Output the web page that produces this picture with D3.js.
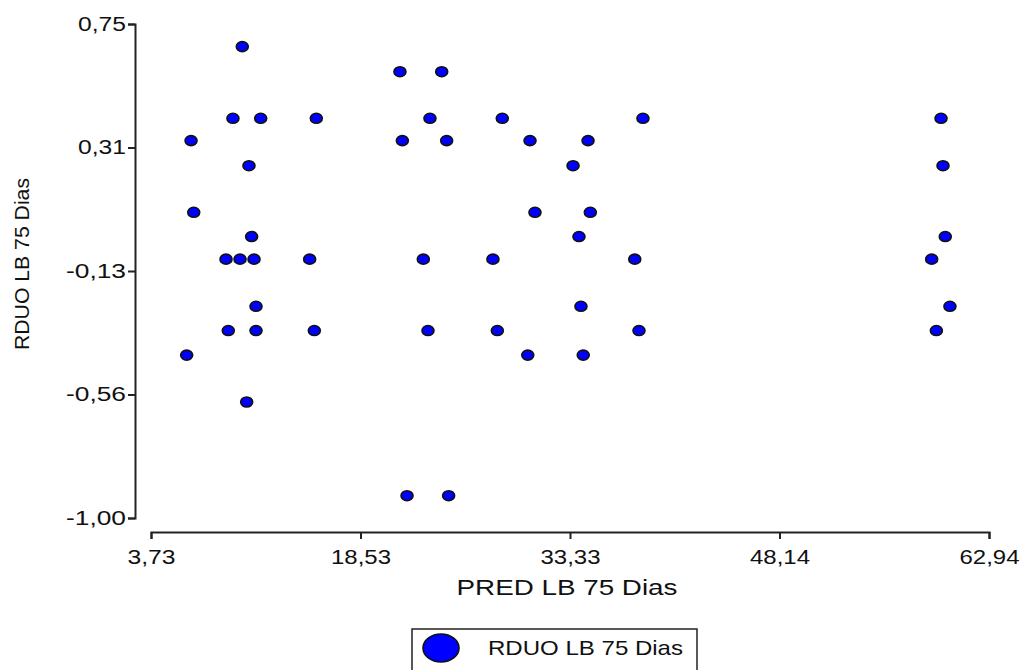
<!DOCTYPE html>
<html>
<head>
<meta charset="utf-8">
<script src="https://cdn.jsdelivr.net/npm/d3@7"></script>
<style>
  body { margin: 0; background: #fff; }
  svg { display: block; font-family: "Liberation Sans", Arial, sans-serif; }
</style>
</head>
<body>
<script>
const width = 1026;
const height = 670;

// PRED LB 75 Dias (x) and RDUO LB 75 Dias (y)
const predX = [
  10.18, 21.32, 24.27, 9.52, 11.48, 15.41, 23.44, 28.55, 38.49, 59.55,
  6.56, 21.49, 24.62, 30.51, 34.61, 10.65, 33.55, 59.69, 6.75, 30.86,
  34.77, 10.84, 33.97, 59.85, 9.03, 10.02, 11.01, 14.94, 22.97, 27.89,
  37.91, 58.89, 11.15, 34.11, 60.18, 9.19, 11.15, 15.27, 23.30, 28.20,
  38.21, 59.22, 6.25, 30.35, 34.27, 10.49, 21.82, 24.76
];
const rduoY = [
  0.670, 0.581, 0.581, 0.416, 0.416, 0.416, 0.416, 0.416, 0.416, 0.416,
  0.337, 0.337, 0.337, 0.337, 0.337, 0.248, 0.248, 0.248, 0.083, 0.083,
  0.083, -0.003, -0.003, -0.003, -0.083, -0.083, -0.083, -0.083, -0.083, -0.083,
  -0.083, -0.083, -0.250, -0.250, -0.250, -0.336, -0.336, -0.336, -0.336, -0.336,
  -0.336, -0.336, -0.423, -0.423, -0.423, -0.589, -0.921, -0.921
];

const xTicks = [3.73, 18.5325, 33.335, 48.1375, 62.94];
const xTickLabels = ["3,73", "18,53", "33,33", "48,14", "62,94"];
const yTicks = [-1.0, -0.5625, -0.125, 0.3125, 0.75];
const yTickLabels = ["-1,00", "-0,56", "-0,13", "0,31", "0,75"];

const points = predX.map((x, i) => ({ x, y: rduoY[i] }));

const xScale = d3.scaleLinear().domain([3.73, 62.94]).range([151, 989]);
const yScale = d3.scaleLinear().domain([-1.0, 0.75]).range([518, 24]);

const svg = d3
  .select("body")
  .append("svg")
  .attr("width", width)
  .attr("height", height);

// x axis (detached below the plot)
const xAxis = svg
  .append("g")
  .attr("transform", "translate(0, 532)")
  .call(
    d3.axisBottom(xScale)
      .tickValues(xTicks)
      .tickFormat((d, i) => xTickLabels[i])
      .tickSizeOuter(0)
      .tickSize(7)
      .tickPadding(6)
  );

// y axis (detached left of the plot)
const yAxis = svg
  .append("g")
  .attr("transform", "translate(135, 0)")
  .call(
    d3.axisLeft(yScale)
      .tickValues(yTicks)
      .tickFormat((d, i) => yTickLabels[i])
      .tickSizeOuter(0)
      .tickSize(7)
      .tickPadding(2)
  );

[xAxis, yAxis].forEach((ax) => {
  ax.select(".domain").attr("stroke", "#222").attr("stroke-width", 2);
  ax.selectAll(".tick line").attr("stroke", "#222").attr("stroke-width", 2);
  ax.selectAll(".tick text")
    .attr("fill", "#111")
    .style("font-size", "20px")
    .attr("textLength", (d, i, n) => n[i].textContent.length * 12)
    .attr("lengthAdjust", "spacingAndGlyphs");
});
xAxis.selectAll(".tick text").attr("dy", "0.95em");

// points
svg
  .append("g")
  .selectAll("ellipse")
  .data(points)
  .enter()
  .append("ellipse")
  .attr("cx", (d) => xScale(d.x))
  .attr("cy", (d) => yScale(d.y))
  .attr("rx", 6)
  .attr("ry", 5)
  .attr("fill", "#0000ff")
  .attr("stroke", "#111")
  .attr("stroke-width", 1.6);

// axis titles
svg
  .append("text")
  .attr("x", 567)
  .attr("y", 595)
  .attr("text-anchor", "middle")
  .attr("textLength", 221)
  .attr("lengthAdjust", "spacingAndGlyphs")
  .style("font-size", "22px")
  .style("fill", "#111")
  .text("PRED LB 75 Dias");

svg
  .append("text")
  .attr("transform", "rotate(-90)")
  .attr("x", -264)
  .attr("y", 29)
  .attr("text-anchor", "middle")
  .attr("textLength", 172)
  .attr("lengthAdjust", "spacingAndGlyphs")
  .style("font-size", "20px")
  .style("fill", "#111")
  .text("RDUO LB 75 Dias");

// legend
const legend = svg.append("g");
legend
  .append("rect")
  .attr("x", 412)
  .attr("y", 629)
  .attr("width", 285)
  .attr("height", 50)
  .attr("fill", "none")
  .attr("stroke", "#222")
  .attr("stroke-width", 1.5);
legend
  .append("ellipse")
  .attr("cx", 441)
  .attr("cy", 648)
  .attr("rx", 18)
  .attr("ry", 14)
  .attr("fill", "#0000ff")
  .attr("stroke", "#111")
  .attr("stroke-width", 1.6);
legend
  .append("text")
  .attr("x", 488)
  .attr("y", 655)
  .attr("textLength", 195)
  .attr("lengthAdjust", "spacingAndGlyphs")
  .style("font-size", "21px")
  .style("fill", "#111")
  .text("RDUO LB 75 Dias");
</script>
</body>
</html>
